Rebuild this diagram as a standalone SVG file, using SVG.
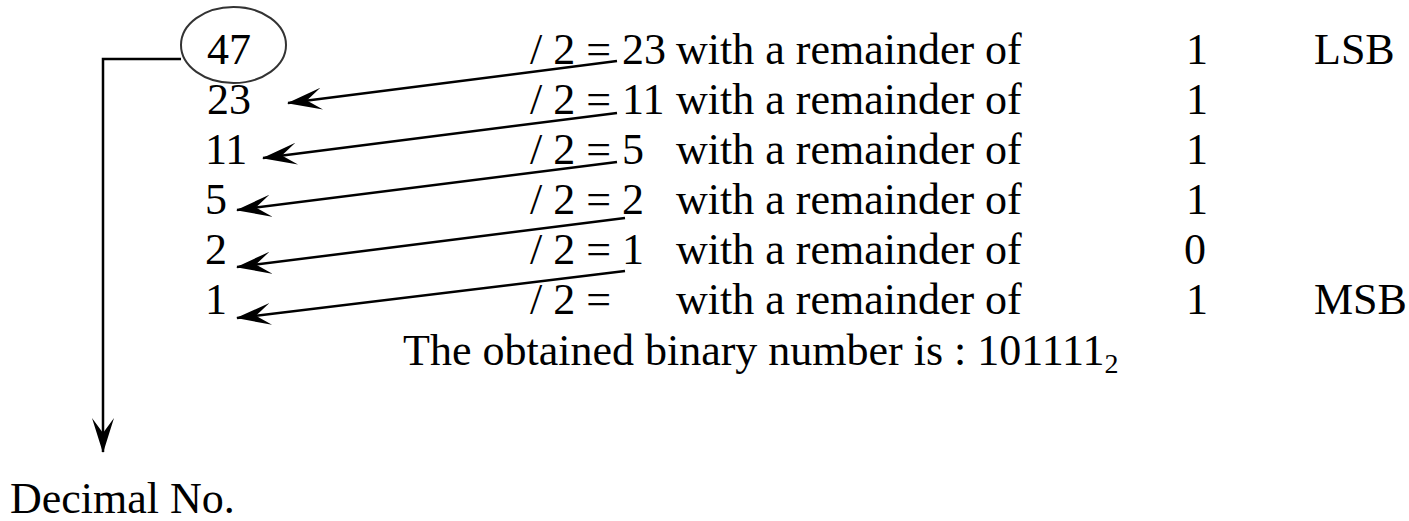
<svg xmlns="http://www.w3.org/2000/svg" width="1409" height="521" viewBox="0 0 1409 521">
<style>
text{font-family:"Liberation Serif","Times New Roman",serif;font-size:44px;fill:#000}
.c{fill:none;stroke:#000;stroke-width:2.5}
</style>
<defs>
<marker id="ah" markerUnits="userSpaceOnUse" markerWidth="36" markerHeight="24" refX="34" refY="12" orient="auto" viewBox="0 0 36 24">
<path d="M35,12 L0,1 L15,12 L0,23 Z" fill="#000"/>
</marker>
</defs>
<rect width="1409" height="521" fill="#fff"/>
<g id="node-47">
<ellipse cx="233.5" cy="45" rx="52.5" ry="38" fill="none" stroke="#333" stroke-width="2"/>
<text x="207" y="64">47</text>
</g>
<g id="left-numbers">
<text x="207" y="114">23</text>
<text x="205" y="164">11</text>
<text x="205" y="214">5</text>
<text x="205" y="264">2</text>
<text x="205" y="314">1</text>
</g>
<g id="divisions">
<text x="530" y="64">/ 2 = 23</text>
<text x="530" y="114">/ 2 = 11</text>
<text x="530" y="164">/ 2 = 5</text>
<text x="530" y="214">/ 2 = 2</text>
<text x="530" y="264">/ 2 = 1</text>
<text x="530" y="314">/ 2 =</text>
</g>
<g id="phrases">
<text x="676" y="64">with a remainder of</text>
<text x="676" y="114">with a remainder of</text>
<text x="676" y="164">with a remainder of</text>
<text x="676" y="214">with a remainder of</text>
<text x="676" y="264">with a remainder of</text>
<text x="676" y="314">with a remainder of</text>
</g>
<g id="remainders">
<text x="1186" y="64">1</text>
<text x="1186" y="114">1</text>
<text x="1186" y="164">1</text>
<text x="1186" y="214">1</text>
<text x="1184" y="264">0</text>
<text x="1186" y="314">1</text>
</g>
<g id="labels">
<text x="1314" y="64">LSB</text>
<text x="1314" y="314">MSB</text>
</g>
<g id="result">
<text x="403" y="365">The obtained binary number is : 101111<tspan font-size="28" dy="8">2</tspan></text>
</g>
<g id="decimal-label">
<text x="10" y="513">Decimal No.</text>
</g>
<g id="connectors">
<line class="c" x1="617" y1="61" x2="288" y2="103" marker-end="url(#ah)"/>
<line class="c" x1="617" y1="113" x2="263" y2="158" marker-end="url(#ah)"/>
<line class="c" x1="617" y1="162" x2="237" y2="210" marker-end="url(#ah)"/>
<line class="c" x1="625" y1="218" x2="237" y2="267" marker-end="url(#ah)"/>
<line class="c" x1="625" y1="271" x2="237" y2="318" marker-end="url(#ah)"/>
<polyline class="c" points="181,59 103,59 103,452" marker-end="url(#ah)"/>
</g>
</svg>
